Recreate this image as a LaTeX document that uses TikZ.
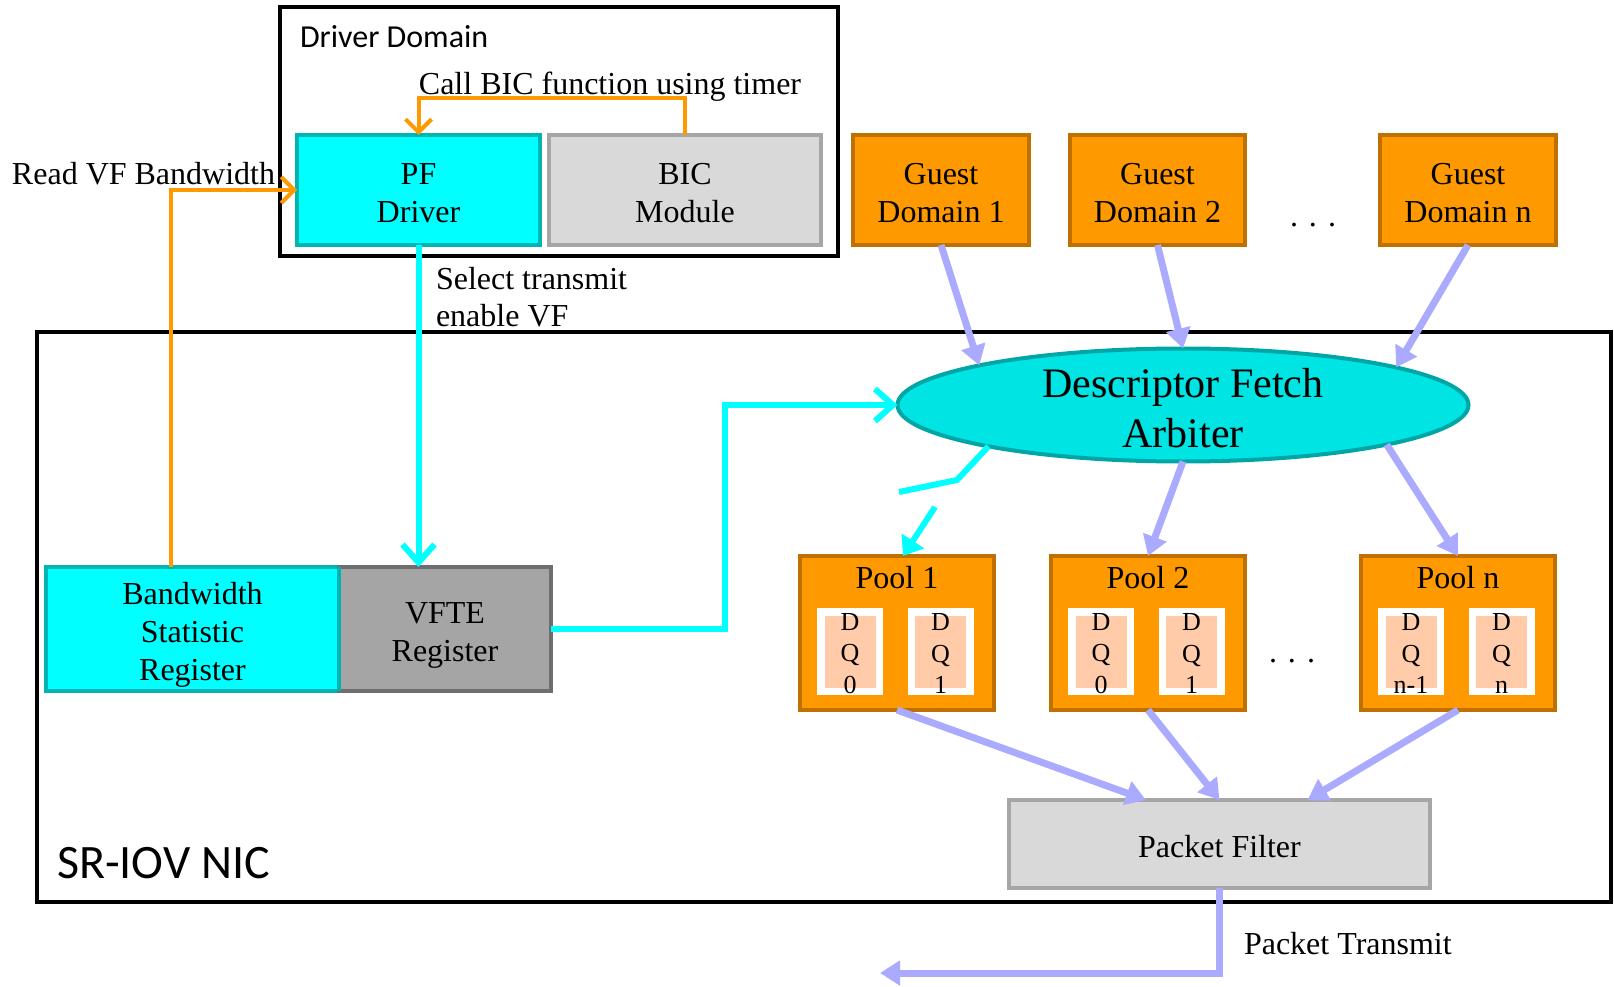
\documentclass[tikz,border=0pt]{standalone}
\usepackage{fontspec}
\setmainfont{Liberation Serif}
\newfontfamily\labelsans{Carlito}
\usetikzlibrary{arrows.meta,shapes.geometric,shadows}

\definecolor{cyanfill}{HTML}{00FFFF}
\definecolor{cyanedge}{HTML}{00B4B4}
\definecolor{ellfill}{HTML}{00E4E4}
\definecolor{elledge}{HTML}{00A6A6}
\definecolor{orfill}{HTML}{FF9900}
\definecolor{oredge}{HTML}{C07000}
\definecolor{orline}{HTML}{FF9900}
\definecolor{lav}{HTML}{AAAAFF}
\definecolor{peach}{HTML}{FFCBA8}
\definecolor{lightgray}{HTML}{D9D9D9}
\definecolor{lightedge}{HTML}{A6A6A6}
\definecolor{midgray}{HTML}{A5A5A5}
\definecolor{midedge}{HTML}{6E6E6E}

\newcommand\diagfont{\fontsize{32}{37.5}\selectfont}
\newcommand\regfont{\fontsize{32}{38}\selectfont}
\newcommand\dqfont{\fontsize{26}{31.5}\selectfont}
\newcommand\bigfont{\fontsize{42}{50}\selectfont}

\begin{document}
\begin{tikzpicture}[x=1pt,y=-1pt,
  every node/.style={inner sep=0pt, outer sep=0pt},
  frame/.style={rectangle, draw=black, line width=4.5pt},
  box/.style={rectangle, line width=4pt},
  cyanbox/.style={box, fill=cyanfill, draw=cyanedge},
  guestbox/.style={box, fill=orfill, draw=oredge, minimum width=176pt, minimum height=110pt},
  poolbox/.style={rectangle, fill=orfill, draw=oredge, line width=4pt, minimum width=194pt, minimum height=154pt},
  card/.style={rectangle, fill=peach, draw=white, line width=7.5pt, minimum width=58.5pt, minimum height=79.5pt, drop shadow={shadow xshift=2.5pt, shadow yshift=-3.5pt, opacity=0.35, fill=black!60}},
  boxtext/.style={font=\diagfont, align=center},
  dqtext/.style={font=\dqfont, align=center},
  txt/.style={font=\diagfont, align=left},
  orangeln/.style={draw=orline, line width=4pt, -{Straight Barb[length=13pt,width=26pt]}},
  cyanln/.style={draw=cyanfill, line width=6pt},
  cyanbarb/.style={cyanln, -{Straight Barb[length=18pt,width=32pt]}},
  lavln/.style={draw=lav, line width=7pt, -{Triangle[length=20pt,width=24pt]}}
]
\useasboundingbox (0,0) rectangle (1614,987);

% outer frames
\node[frame, minimum width=558pt, minimum height=249pt] (DD) at (559,131.5) {};
\node[anchor=west, font=\labelsans\fontsize{32}{38}\selectfont] (DDt) at (300,37) {Driver Domain};
\node[frame, minimum width=1574pt, minimum height=570pt] (NIC) at (824,617) {};
\node[anchor=west, font=\labelsans\fontsize{48}{56}\selectfont] (NICt) at (57,863) {SR-IOV NIC};

% driver domain contents
\node[cyanbox, minimum width=243pt, minimum height=110pt] (PF) at (418.5,190) {};
\node[boxtext] (PFt) at ([yshift=-3pt]PF.center) {PF\\Driver};
\node[box, fill=lightgray, draw=lightedge, minimum width=272pt, minimum height=110pt] (BIC) at (685,190) {};
\node[boxtext] (BICt) at ([yshift=-3pt]BIC.center) {BIC\\Module};

% guest domains
\node[guestbox] (G1) at (941,190) {};
\node[boxtext] (G1t) at ([yshift=-3pt]G1.center) {Guest\\Domain 1};
\node[guestbox, minimum width=175pt] (G2) at (1157.5,190) {};
\node[boxtext] (G2t) at ([yshift=-3pt]G2.center) {Guest\\Domain 2};
\node[guestbox] (Gn) at (1468,190) {};
\node[boxtext] (Gnt) at ([yshift=-3pt]Gn.center) {Guest\\Domain n};
\node[font=\diagfont] (gdots) at (1313,225) {.\hspace{11pt}.\hspace{11pt}.};

% arbiter
\node[ellipse, fill=ellfill, draw=elledge, line width=4pt, minimum width=571pt, minimum height=113pt] (DFA) at (1183,405) {};
\node[font=\bigfont, align=center] (DFAt) at ([yshift=-3pt]DFA.center) {Descriptor Fetch\\Arbiter};

% registers
\node[cyanbox, minimum width=293pt, minimum height=124pt] (BSR) at (192.5,629) {};
\node[box, fill=midgray, draw=midedge, minimum width=212pt, minimum height=124pt] (VFTE) at (445,629) {};
\draw[cyanedge, line width=4pt] (BSR.north east) -- (BSR.south east);
\node[boxtext, font=\regfont] (BSRt) at ([yshift=-6pt]BSR.center) {Bandwidth\\Statistic\\Register};
\node[boxtext, font=\regfont] (VFTEt) at ([yshift=-6pt]VFTE.center) {VFTE\\Register};

% pools
\node[poolbox] (P1) at (897,633) {};
\node[font=\diagfont] (P1t) at (897,578) {Pool 1};
\node[card] (q10) at (850,651.5) {};
\node[card] (q11) at (940.5,651.5) {};

\node[poolbox] (P2) at (1148,633) {};
\node[font=\diagfont] (P2t) at (1148,578) {Pool 2};
\node[card] (q20) at (1101,651.5) {};
\node[card] (q21) at (1191.5,651.5) {};

\node[poolbox] (Pn) at (1458,633) {};
\node[font=\diagfont] (Pnt) at (1458,578) {Pool n};
\node[card] (qn0) at (1411,651.5) {};
\node[card] (qn1) at (1501.5,651.5) {};

\node[dqtext] (q10t) at ([yshift=-2pt]q10.center) {D\\Q\\0};
\node[dqtext] (q11t) at ([yshift=-2pt]q11.center) {D\\Q\\1};
\node[dqtext] (q20t) at ([yshift=-2pt]q20.center) {D\\Q\\0};
\node[dqtext] (q21t) at ([yshift=-2pt]q21.center) {D\\Q\\1};
\node[dqtext] (qn0t) at ([yshift=-2pt]qn0.center) {D\\Q\\n-1};
\node[dqtext] (qn1t) at ([yshift=-2pt]qn1.center) {D\\Q\\n};

\node[font=\diagfont] (pdots) at (1292,661) {.\hspace{11pt}.\hspace{11pt}.};

% packet filter
\node[box, fill=lightgray, draw=lightedge, minimum width=421pt, minimum height=88pt] (PFl) at (1219.5,844) {};
\node[boxtext] (PFlt) at ([yshift=-3pt]PFl.center) {Packet Filter};

% helper points
\coordinate (tm) at (0,98);
\coordinate (bend) at (725,405);
\coordinate (c1) at (957,480);
\coordinate (c2) at (899,492);
\coordinate (c3) at (935,507);
\coordinate (out) at (880,973);

% orange control paths
\draw[orangeln] (BIC.north) -- (BIC.north |- tm) -- (PF.north |- tm) -- (PF.north);
\draw[orangeln] ([xshift=-21.5pt]BSR.north) |- (PF.west);

% cyan paths
\draw[cyanbarb] (PF.south) -- (PF.south |- VFTE.north);
\draw[cyanbarb] (VFTE.east) -| (bend) -- (DFA.west);
\draw[cyanln] (DFA.-168.6) -- (c1) -- (c2);
\draw[cyanln, -{Triangle[length=18pt,width=26pt]}] (c3) -- ([xshift=6pt]P1.north);

% descriptor flow
\draw[lavln] (G1.south) -- (DFA.169.1);
\draw[lavln] (G2.south) -- (DFA.north);
\draw[lavln] (Gn.south) -- (DFA.10.7);
\draw[lavln] (DFA.south) -- (P2.north);
\draw[lavln] (DFA.-11.2) -- (Pn.north);
\draw[lavln] (P1.south) -- ([xshift=-73.5pt]PFl.north);
\draw[lavln] (P2.south) -- (PFl.north);
\draw[lavln] (Pn.south) -- ([xshift=88pt]PFl.north);
\draw[lavln] (PFl.south) |- (out);

% labels
\node[txt] (lcall) at (610,87) {Call BIC function using timer};
\node[txt, anchor=west] (lread) at (12,174) {Read VF Bandwidth};
\node[txt, anchor=west] (lsel) at (436,297) {Select transmit\\enable VF};
\node[txt, anchor=west] (lpt) at (1244,944) {Packet Transmit};
\end{tikzpicture}
\end{document}
